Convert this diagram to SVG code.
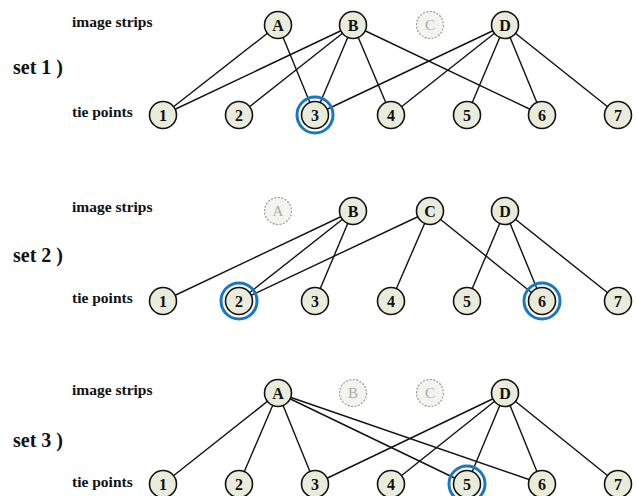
<svg xmlns="http://www.w3.org/2000/svg" width="638" height="496" viewBox="0 0 638 496">
  <defs>
    <style>
      .lbl { font-family: "Liberation Serif", "Times New Roman", serif; font-weight: bold; font-size: 15.5px; fill: #111; }
      .set { font-family: "Liberation Serif", "Times New Roman", serif; font-weight: bold; font-size: 20px; fill: #111; }
      .node circle { fill: #e9ecdb; stroke: #111; stroke-width: 1.6; }
      .node circle.ring { fill: none; stroke: #1a78c2; stroke-width: 3; }
      .node text { font-family: "Liberation Serif", "Times New Roman", serif; font-weight: bold; font-size: 16px; fill: #111; text-anchor: middle; dominant-baseline: central; }
      .ghost circle { fill: #f4f4ef; stroke: #999; stroke-width: 1.2; stroke-dasharray: 2 1.5; }
      .ghost text { font-family: "Liberation Serif", "Times New Roman", serif; font-size: 15px; fill: #aaa; text-anchor: middle; dominant-baseline: central; }
      .edges line { stroke: #111; stroke-width: 1.4; }
    </style>
  </defs>
  <rect width="638" height="496" fill="#fff"/>

  <!-- ===== set 1 ===== -->
  <g id="set1-labels">
    <text class="lbl" x="72" y="27">image strips</text>
    <text class="set" x="13" y="74">set 1 )</text>
    <text class="lbl" x="72" y="117">tie points</text>
  </g>
  <g id="set1-edges" class="edges">
    <line x1="278" y1="25" x2="163" y2="115"/>
    <line x1="278" y1="25" x2="315" y2="115"/>
    <line x1="353" y1="25" x2="163" y2="115"/>
    <line x1="353" y1="25" x2="239" y2="115"/>
    <line x1="353" y1="25" x2="315" y2="115"/>
    <line x1="353" y1="25" x2="391" y2="115"/>
    <line x1="353" y1="25" x2="542" y2="115"/>
    <line x1="505" y1="25" x2="315" y2="115"/>
    <line x1="505" y1="25" x2="391" y2="115"/>
    <line x1="505" y1="25" x2="467" y2="115"/>
    <line x1="505" y1="25" x2="542" y2="115"/>
    <line x1="505" y1="25" x2="618" y2="115"/>
  </g>
  <g id="s1-A" class="node"><circle cx="278" cy="25" r="13.5"/><text x="278" y="25">A</text></g>
  <g id="s1-B" class="node"><circle cx="353" cy="25" r="13.5"/><text x="353" y="25">B</text></g>
  <g id="s1-C" class="ghost"><circle cx="430" cy="25" r="13.5"/><text x="430" y="25">C</text></g>
  <g id="s1-D" class="node"><circle cx="505" cy="25" r="13.5"/><text x="505" y="25">D</text></g>
  <g id="s1-1" class="node"><circle cx="163" cy="115" r="13.5"/><text x="163" y="115">1</text></g>
  <g id="s1-2" class="node"><circle cx="239" cy="115" r="13.5"/><text x="239" y="115">2</text></g>
  <g id="s1-3" class="node"><circle class="ring" cx="315" cy="115" r="18"/><circle cx="315" cy="115" r="13.5"/><text x="315" y="115">3</text></g>
  <g id="s1-4" class="node"><circle cx="391" cy="115" r="13.5"/><text x="391" y="115">4</text></g>
  <g id="s1-5" class="node"><circle cx="467" cy="115" r="13.5"/><text x="467" y="115">5</text></g>
  <g id="s1-6" class="node"><circle cx="542" cy="115" r="13.5"/><text x="542" y="115">6</text></g>
  <g id="s1-7" class="node"><circle cx="618" cy="115" r="13.5"/><text x="618" y="115">7</text></g>

  <!-- ===== set 2 ===== -->
  <g id="set2-labels">
    <text class="lbl" x="72" y="212">image strips</text>
    <text class="set" x="13" y="262">set 2 )</text>
    <text class="lbl" x="72" y="303">tie points</text>
  </g>
  <g id="set2-edges" class="edges">
    <line x1="353" y1="211" x2="163" y2="301"/>
    <line x1="353" y1="211" x2="239" y2="301"/>
    <line x1="353" y1="211" x2="315" y2="301"/>
    <line x1="430" y1="211" x2="239" y2="301"/>
    <line x1="430" y1="211" x2="391" y2="301"/>
    <line x1="430" y1="211" x2="542" y2="301"/>
    <line x1="505" y1="211" x2="467" y2="301"/>
    <line x1="505" y1="211" x2="542" y2="301"/>
    <line x1="505" y1="211" x2="618" y2="301"/>
  </g>
  <g id="s2-A" class="ghost"><circle cx="278" cy="211" r="13.5"/><text x="278" y="211">A</text></g>
  <g id="s2-B" class="node"><circle cx="353" cy="211" r="13.5"/><text x="353" y="211">B</text></g>
  <g id="s2-C" class="node"><circle cx="430" cy="211" r="13.5"/><text x="430" y="211">C</text></g>
  <g id="s2-D" class="node"><circle cx="505" cy="211" r="13.5"/><text x="505" y="211">D</text></g>
  <g id="s2-1" class="node"><circle cx="163" cy="301" r="13.5"/><text x="163" y="301">1</text></g>
  <g id="s2-2" class="node"><circle class="ring" cx="239" cy="301" r="18"/><circle cx="239" cy="301" r="13.5"/><text x="239" y="301">2</text></g>
  <g id="s2-3" class="node"><circle cx="315" cy="301" r="13.5"/><text x="315" y="301">3</text></g>
  <g id="s2-4" class="node"><circle cx="391" cy="301" r="13.5"/><text x="391" y="301">4</text></g>
  <g id="s2-5" class="node"><circle cx="467" cy="301" r="13.5"/><text x="467" y="301">5</text></g>
  <g id="s2-6" class="node"><circle class="ring" cx="542" cy="301" r="18"/><circle cx="542" cy="301" r="13.5"/><text x="542" y="301">6</text></g>
  <g id="s2-7" class="node"><circle cx="618" cy="301" r="13.5"/><text x="618" y="301">7</text></g>

  <!-- ===== set 3 ===== -->
  <g id="set3-labels">
    <text class="lbl" x="72" y="395">image strips</text>
    <text class="set" x="13" y="447">set 3 )</text>
    <text class="lbl" x="72" y="487">tie points</text>
  </g>
  <g id="set3-edges" class="edges">
    <line x1="278" y1="393" x2="163" y2="484"/>
    <line x1="278" y1="393" x2="239" y2="484"/>
    <line x1="278" y1="393" x2="315" y2="484"/>
    <line x1="278" y1="393" x2="467" y2="484"/>
    <line x1="278" y1="393" x2="542" y2="484"/>
    <line x1="505" y1="393" x2="315" y2="484"/>
    <line x1="505" y1="393" x2="391" y2="484"/>
    <line x1="505" y1="393" x2="467" y2="484"/>
    <line x1="505" y1="393" x2="542" y2="484"/>
    <line x1="505" y1="393" x2="618" y2="484"/>
  </g>
  <g id="s3-A" class="node"><circle cx="278" cy="393" r="13.5"/><text x="278" y="393">A</text></g>
  <g id="s3-B" class="ghost"><circle cx="353" cy="393" r="13.5"/><text x="353" y="393">B</text></g>
  <g id="s3-C" class="ghost"><circle cx="430" cy="393" r="13.5"/><text x="430" y="393">C</text></g>
  <g id="s3-D" class="node"><circle cx="505" cy="393" r="13.5"/><text x="505" y="393">D</text></g>
  <g id="s3-1" class="node"><circle cx="163" cy="484" r="13.5"/><text x="163" y="484">1</text></g>
  <g id="s3-2" class="node"><circle cx="239" cy="484" r="13.5"/><text x="239" y="484">2</text></g>
  <g id="s3-3" class="node"><circle cx="315" cy="484" r="13.5"/><text x="315" y="484">3</text></g>
  <g id="s3-4" class="node"><circle cx="391" cy="484" r="13.5"/><text x="391" y="484">4</text></g>
  <g id="s3-5" class="node"><circle class="ring" cx="467" cy="484" r="18"/><circle cx="467" cy="484" r="13.5"/><text x="467" y="484">5</text></g>
  <g id="s3-6" class="node"><circle cx="542" cy="484" r="13.5"/><text x="542" y="484">6</text></g>
  <g id="s3-7" class="node"><circle cx="618" cy="484" r="13.5"/><text x="618" y="484">7</text></g>
</svg>
